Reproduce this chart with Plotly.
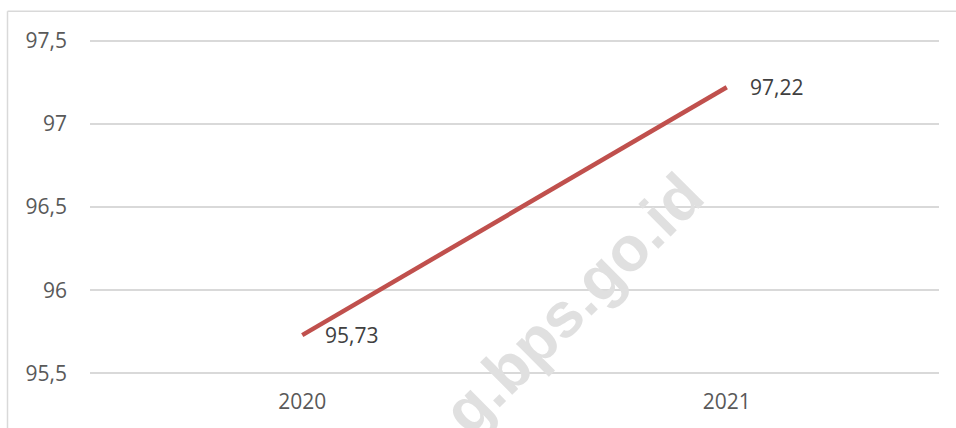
import plotly.graph_objects as go

# ---- data ----
years = ["2020", "2021"]
values = [95.73, 97.22]
value_labels = ["95,73", "97,22"]
y_ticks = [95.5, 96, 96.5, 97, 97.5]
watermark_text = "g.bps.go.id"

# ---- layout geometry (pixels) ----
W, H = 956, 428
L, R, T, B = 90, 17, 39.3, 53.3
PW, PH = W - L - R, H - T - B
Y_PAD = 0.01


def px(x):
    return (x - L) / PW


def py(y):
    return (H - B - y) / PH


fig = go.Figure()
fig.add_trace(go.Scatter(
    x=years, y=values, mode="lines",
    line=dict(color="#C0504D", width=4.5),
    hoverinfo="skip", showlegend=False,
))

for i, (yv, lab) in enumerate(zip(values, value_labels)):
    fig.add_annotation(
        x=i, y=yv, xref="x", yref="y", text=lab, showarrow=False,
        xanchor="left", yanchor="middle", xshift=21,
        font=dict(family="Open Sans", size=21, color="#404040"),
    )

# watermark
fig.add_annotation(
    x=px(573), y=py(303), xref="paper", yref="paper",
    text=watermark_text, showarrow=False, textangle=-45,
    xanchor="center", yanchor="middle",
    font=dict(family="Liberation Sans", size=63, color="#e0e0e0", weight="bold"),
)

# outer chart frame (top & left visible)
fig.add_shape(type="line", xref="paper", yref="paper",
              x0=px(7.5), x1=px(7.5), y0=py(11.5), y1=py(440),
              line=dict(color="#d9d9d9", width=1.5), layer="below")
fig.add_shape(type="line", xref="paper", yref="paper",
              x0=px(7.5), x1=px(970), y0=py(11.5), y1=py(11.5),
              line=dict(color="#d9d9d9", width=1.5), layer="below")

fig.update_layout(
    width=W, height=H,
    margin=dict(l=L, r=R, t=T, b=B, pad=0),
    paper_bgcolor="white", plot_bgcolor="white",
    separators=",.",
    font=dict(family="Open Sans", size=21, color="#595959"),
    xaxis=dict(
        type="category", range=[-0.5, 1.5],
        showgrid=False, zeroline=False, showline=False,
        ticks="", ticklabelstandoff=12,
        tickfont=dict(family="Open Sans", size=21, color="#595959"),
        fixedrange=True,
    ),
    yaxis=dict(
        range=[y_ticks[0] - Y_PAD, y_ticks[-1] + Y_PAD], tickvals=y_ticks,
        showgrid=True, gridcolor="#d9d9d9", gridwidth=1.5,
        zeroline=False, showline=False, ticks="",
        ticklabelstandoff=22,
        tickfont=dict(family="Open Sans", size=21, color="#595959"),
        fixedrange=True,
    ),
)

fig.write_html("out.html")
